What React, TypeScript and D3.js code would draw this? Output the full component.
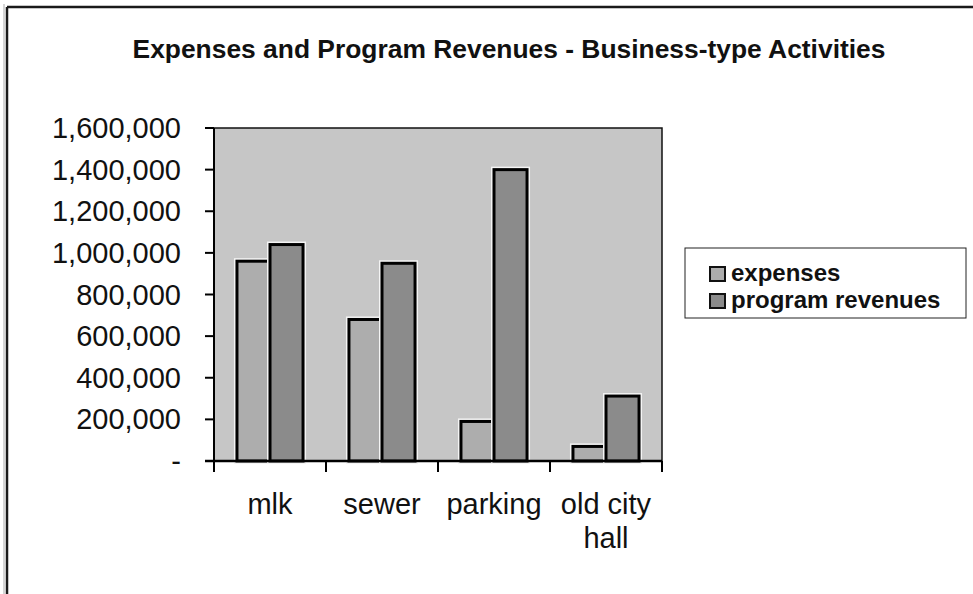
import React from "react";
import * as d3 from "d3";

const categories = ["mlk", "sewer", "parking", "old city hall"];
const categoryLines = [["mlk"], ["sewer"], ["parking"], ["old city", "hall"]];
const seriesNames = ["expenses", "program revenues"];
const expenses = [960000, 680000, 190000, 70000];
const programRevenues = [1040000, 950000, 1400000, 312000];
const yTicks = [0, 200000, 400000, 600000, 800000, 1000000, 1200000, 1400000, 1600000];

const W = 973;
const H = 594;
const plot = { left: 214, right: 662, top: 128, bottom: 461 };
const colors = ["#adadad", "#8b8b8b"];
const FONT = "'Liberation Sans', Arial, sans-serif";

export default function App() {
  const x0 = d3.scaleBand<string>().domain(categories).range([plot.left, plot.right]).padding(0);
  const bw = x0.bandwidth();
  const groupW = bw * 0.59;
  const x1 = d3.scaleBand<string>().domain(seriesNames).range([0, groupW]).padding(0);
  const y = d3.scaleLinear().domain([0, 1600000]).range([plot.bottom, plot.top]);
  const fmt = d3.format(",");
  const values = [expenses, programRevenues];

  return (
    <svg width={W} height={H} style={{ position: "absolute", left: 0, top: 0, background: "#fff" }} fontFamily={FONT}>
      <rect x={0} y={0} width={W} height={H} fill="#fff" />
      {/* outer border */}
      <line x1={7} y1={7} x2={W} y2={7} stroke="#1a1a1a" strokeWidth={2.5} />
      <line x1={7} y1={7} x2={7} y2={H} stroke="#1a1a1a" strokeWidth={2.5} />
      <line x1={4} y1={4} x2={4} y2={H} stroke="#aaa" strokeWidth={1} />

      {/* title */}
      <text x={509} y={58} textAnchor="middle" fontSize={26.4} fontWeight="bold" fill="#111">
        Expenses and Program Revenues - Business-type Activities
      </text>

      {/* plot background */}
      <rect x={plot.left} y={plot.top} width={plot.right - plot.left} height={plot.bottom - plot.top} fill="#c6c6c6" stroke="#111" strokeWidth={1.5} />

      {/* bars */}
      {categories.map((c, i) => (
        <g key={c} transform={`translate(${(x0(c) as number) + (bw - groupW) / 2},0)`}>
          {seriesNames.map((s, j) => {
            const v = values[j][i];
            const bx = x1(s) as number;
            const by = y(v);
            const bh = plot.bottom - by;
            return (
              <g key={s}>
                <rect x={bx} y={by} width={x1.bandwidth()} height={bh} fill="none" stroke="#f4f4f4" strokeWidth={6} />
                <rect x={bx} y={by} width={x1.bandwidth()} height={bh} fill={colors[j]} stroke="#000" strokeWidth={3} />
              </g>
            );
          })}
        </g>
      ))}

      {/* y axis */}
      <line x1={plot.left} y1={plot.top} x2={plot.left} y2={plot.bottom + 11} stroke="#000" strokeWidth={2} />
      {yTicks.map((t) => (
        <g key={t}>
          <line x1={plot.left - 9} y1={y(t)} x2={plot.left} y2={y(t)} stroke="#000" strokeWidth={2} />
          <text x={181} y={y(t) + 10} textAnchor="end" fontSize={29} fill="#111">
            {t === 0 ? "-" : fmt(t)}
          </text>
        </g>
      ))}

      {/* x axis */}
      <line x1={plot.left - 9} y1={plot.bottom} x2={plot.right} y2={plot.bottom} stroke="#000" strokeWidth={2.5} />
      {[...categories.map((c) => x0(c) as number), plot.right].map((tx, i) => (
        <line key={i} x1={tx} y1={plot.bottom} x2={tx} y2={plot.bottom + 11} stroke="#000" strokeWidth={2} />
      ))}
      {categories.map((c, i) => (
        <text key={c} textAnchor="middle" fontSize={29} fill="#111">
          {categoryLines[i].map((ln, k) => (
            <tspan key={k} x={(x0(c) as number) + bw / 2} y={514 + k * 34}>
              {ln}
            </tspan>
          ))}
        </text>
      ))}

      {/* legend */}
      <rect x={685} y={248} width={281} height={70} fill="#fff" stroke="#222" strokeWidth={1} />
      {seriesNames.map((s, j) => (
        <g key={s}>
          <rect x={710} y={267 + j * 27} width={15} height={14} fill={colors[j]} stroke="#111" strokeWidth={2} />
          <text x={731} y={281 + j * 27} fontSize={24} fontWeight="bold" fill="#111">
            {s}
          </text>
        </g>
      ))}
    </svg>
  );
}
